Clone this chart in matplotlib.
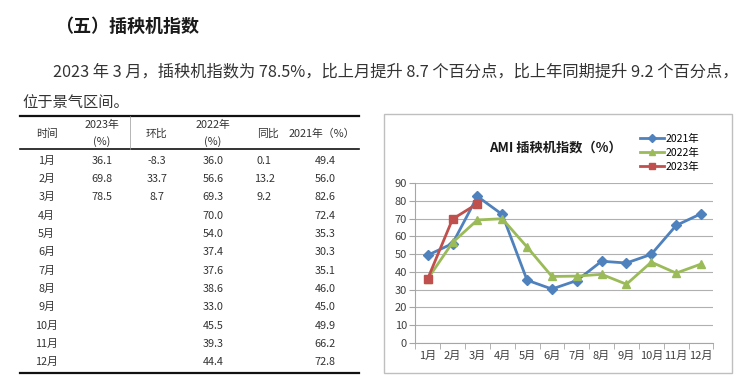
import matplotlib
matplotlib.use("Agg")
import matplotlib.pyplot as plt
from matplotlib.lines import Line2D
from matplotlib.patches import Rectangle

plt.rcParams['font.family'] = ['Noto Sans CJK SC', 'DejaVu Sans']

W, H = 750, 379

months = ['1月', '2月', '3月', '4月', '5月', '6月', '7月', '8月', '9月', '10月', '11月', '12月']
idx_2023 = [36.1, 69.8, 78.5]
mom_2023 = ['-8.3', '33.7', '8.7']
idx_2022 = [36.0, 56.6, 69.3, 70.0, 54.0, 37.4, 37.6, 38.6, 33.0, 45.5, 39.3, 44.4]
yoy_2023 = ['0.1', '13.2', '9.2']
idx_2021 = [49.4, 56.0, 82.6, 72.4, 35.3, 30.3, 35.1, 46.0, 45.0, 49.9, 66.2, 72.8]

heading = '（五）插秧机指数'
para1 = '2023 年 3 月，插秧机指数为 78.5%，比上月提升 8.7 个百分点，比上年同期提升 9.2 个百分点，'
para2 = '位于景气区间。'


def fx(x):
    return x / W


def fy(y):
    return 1 - y / H


fig = plt.figure(figsize=(W / 100, H / 100), dpi=100)

# heading and paragraph
fig.text(fx(55), fy(26), heading, fontsize=13, fontweight='bold', color='#1a1a1a', va='center')
fig.text(fx(53), fy(72), para1, fontsize=11.7, color='#333333', va='center')
fig.text(fx(22), fy(102), para2, fontsize=11, color='#333333', va='center')

# table
tcol = '#333333'
fig.add_artist(Line2D([fx(20), fx(359)], [fy(116), fy(116)], color='#111111', lw=1.6))
fig.add_artist(Line2D([fx(20), fx(359)], [fy(149), fy(149)], color='#111111', lw=1.2))
fig.add_artist(Line2D([fx(20), fx(359)], [fy(372.5), fy(372.5)], color='#111111', lw=1.6))
fig.add_artist(Line2D([fx(130), fx(130)], [fy(116), fy(149)], color='#999999', lw=0.5))

hs = 7.8
fig.text(fx(46.7), fy(134), '时间', fontsize=hs, color=tcol, ha='center', va='center')
fig.text(fx(102), fy(125), '2023年', fontsize=hs, color=tcol, ha='center', va='center')
fig.text(fx(102), fy(142), '(%)', fontsize=hs, color=tcol, ha='center', va='center')
fig.text(fx(156.7), fy(134), '环比', fontsize=hs, color=tcol, ha='center', va='center')
fig.text(fx(213), fy(125), '2022年', fontsize=hs, color=tcol, ha='center', va='center')
fig.text(fx(213), fy(142), '(%)', fontsize=hs, color=tcol, ha='center', va='center')
fig.text(fx(268), fy(134), '同比', fontsize=hs, color=tcol, ha='center', va='center')
fig.text(fx(321.7), fy(134), '2021年（%）', fontsize=hs, color=tcol, ha='center', va='center')

for i, m in enumerate(months):
    ry = 160.7 + i * 18.33
    fig.text(fx(46.7), fy(ry), m, fontsize=hs, color=tcol, ha='center', va='center')
    fig.text(fx(213), fy(ry), f'{idx_2022[i]:.1f}', fontsize=hs, color=tcol, ha='center', va='center')
    fig.text(fx(325), fy(ry), f'{idx_2021[i]:.1f}', fontsize=hs, color=tcol, ha='center', va='center')
    if i < len(idx_2023):
        fig.text(fx(102), fy(ry), f'{idx_2023[i]:.1f}', fontsize=hs, color=tcol, ha='center', va='center')
        fig.text(fx(156.7), fy(ry), mom_2023[i], fontsize=hs, color=tcol, ha='center', va='center')
        fig.text(fx(264), fy(ry), yoy_2023[i], fontsize=hs, color=tcol, ha='center', va='center')

# chart frame
fig.add_artist(Rectangle((fx(384), fy(373)), (732 - 384) / W, (373 - 114) / H,
                         transform=fig.transFigure, fill=False, edgecolor='#bfbfbf', lw=1))

ax = fig.add_axes([fx(415.3), fy(342.7), (713.4 - 415.3) / W, (342.7 - 183.3) / H])
x = list(range(len(months)))
ax.plot(x, idx_2021, color='#4f81bd', lw=2, marker='D', ms=5, label='2021年')
ax.plot(x, idx_2022, color='#9bbb59', lw=2, marker='^', ms=6, label='2022年')
ax.plot(x[:len(idx_2023)], idx_2023, color='#c0504d', lw=2, marker='s', ms=6, label='2023年')

ax.set_xlim(-0.5, 11.5)
ax.set_ylim(0, 90)
ax.set_yticks(range(0, 91, 10))
ax.set_xticks(x)
ax.set_xticklabels(months)
ax.set_xticks([i - 0.5 for i in range(13)], minor=True)
ax.tick_params(axis='x', which='major', length=0, pad=6, labelsize=8, labelcolor='#404040')
ax.tick_params(axis='x', which='minor', length=4, color='#a6a6a6', direction='out')
ax.tick_params(axis='y', length=4, color='#a6a6a6', labelsize=8, labelcolor='#404040', pad=2)
ax.grid(axis='y', color='#b0b0b0', lw=0.8)
ax.set_axisbelow(True)
for s in ['top', 'right']:
    ax.spines[s].set_visible(False)
ax.spines['left'].set_color('#a6a6a6')
ax.spines['bottom'].set_color('#a6a6a6')

fig.text(fx(555), fy(148), 'AMI 插秧机指数（%）', fontsize=9.5, fontweight='bold',
         color='#1a1a1a', ha='center', va='center')
ax.legend(loc='upper left', bbox_to_anchor=(fx(640), fy(134)), bbox_transform=fig.transFigure,
          frameon=False, fontsize=7.5, handlelength=2.3, handletextpad=0.2,
          labelspacing=0.35, borderpad=0, borderaxespad=0, markerscale=0.8)

fig.savefig('out.png', dpi=100)
